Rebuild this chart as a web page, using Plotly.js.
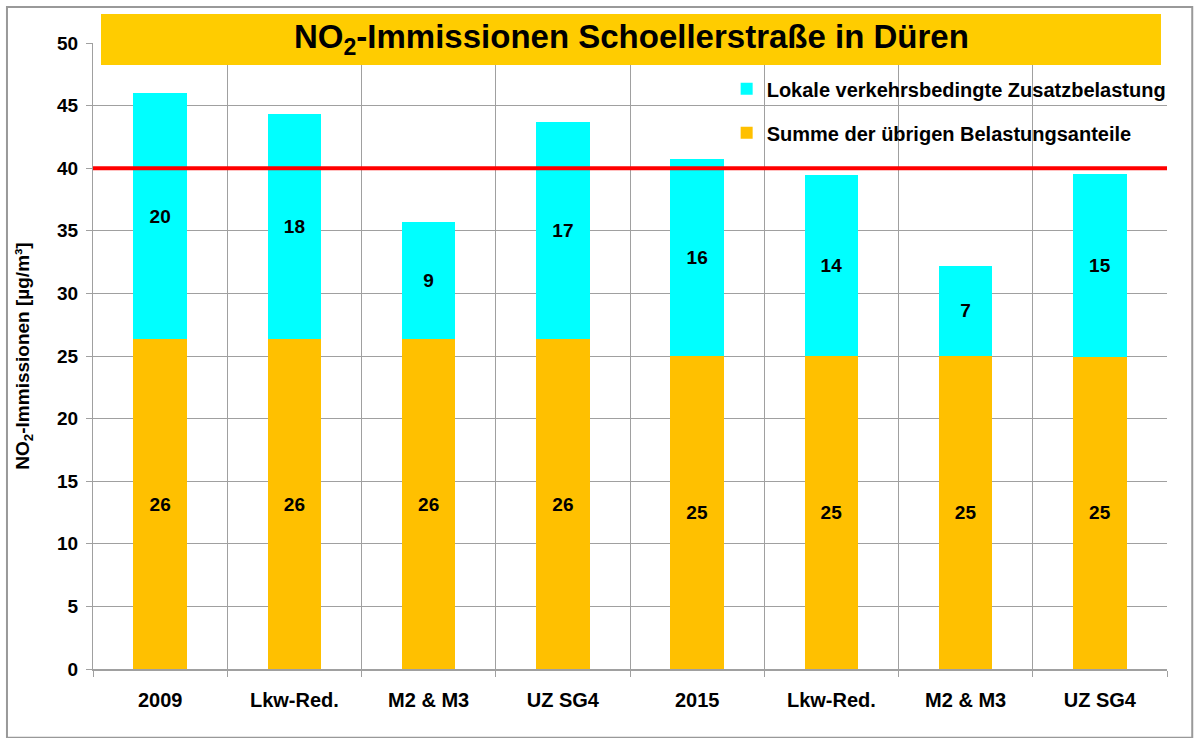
<!DOCTYPE html>
<html>
<head>
<meta charset="utf-8">
<script src="https://cdn.plot.ly/plotly-3.0.1.min.js"></script>
<style>html,body{margin:0;padding:0;background:#fff;}#chart{width:1194px;height:738px;}</style>
</head>
<body>
<div id="chart"></div>
<script>
const categories = ["2009", "Lkw-Red.", "M2 & M3", "UZ SG4", "2015", "Lkw-Red.", "M2 & M3", "UZ SG4"];
const baseLoad = [26.35, 26.35, 26.35, 26.35, 25.04, 25.04, 25.04, 24.94];
const trafficLoad = [19.65, 17.98, 9.36, 17.35, 15.71, 14.43, 7.16, 14.61];
const limitValue = 40;
const seriesNames = ["Summe der übrigen Belastungsanteile", "Lokale verkehrsbedingte Zusatzbelastung"];
const chartTitle = "NO<sub>2</sub>-Immissionen Schoellerstraße in Düren";
const yTitle = "NO<sub>2</sub>-Immissionen [µg/m³]";

const xPos = categories.map((c, i) => i);
const bounds = [];
for (let i = 0; i <= categories.length; i++) bounds.push(i - 0.5);

const FONT = "Liberation Sans, Arial, sans-serif";
const labelFont = {family: FONT, size: 19, color: "#000"};

const traces = [
  {
    type: "bar", x: xPos, y: baseLoad, name: "<b>" + seriesNames[0] + "</b>",
    marker: {color: "#FFC000", line: {width: 0}},
    width: 0.4,
    texttemplate: "<b>%{y:.0f}</b>", textposition: "inside", insidetextanchor: "middle",
    textfont: labelFont, textangle: 0,
    legendrank: 2, legendgroup: "g2", hoverinfo: "y"
  },
  {
    type: "bar", x: xPos, y: trafficLoad, name: "<b>" + seriesNames[1] + "</b>",
    marker: {color: "#00FFFF", line: {width: 0}},
    width: 0.4,
    texttemplate: "<b>%{y:.0f}</b>", textposition: "inside", insidetextanchor: "middle",
    textfont: labelFont, textangle: 0,
    legendrank: 1, legendgroup: "g1", hoverinfo: "y"
  },
  {
    type: "scatter", mode: "lines",
    x: [-0.545, 7.5], y: [limitValue, limitValue],
    line: {color: "#FF0000", width: 4},
    showlegend: false, hoverinfo: "skip", cliponaxis: false
  }
];

const layout = {
  width: 1194, height: 738,
  margin: {l: 93, r: 27, t: 43, b: 69},
  paper_bgcolor: "#fff", plot_bgcolor: "#fff",
  barmode: "stack",
  font: {family: FONT, size: 15, color: "#000"},
  showlegend: true,
  legend: {
    x: 0.59, y: 0.958, xanchor: "left", yanchor: "top",
    traceorder: "grouped", tracegroupgap: 15,
    font: {family: FONT, size: 20, color: "#000"},
    bgcolor: "rgba(0,0,0,0)", itemwidth: 30
  },
  xaxis: {
    range: [-0.5, 7.5],
    tickmode: "array", tickvals: xPos, ticktext: categories.map(c => "<b>" + c + "</b>"),
    ticks: "", showgrid: false, zeroline: false,
    tickfont: {family: FONT, size: 20, color: "#000"},
    ticklabelstandoff: 12,
    showline: true, linecolor: "#a0a0a0", linewidth: 2,
    minor: {tickmode: "array", tickvals: bounds, ticks: "outside", ticklen: 6, tickcolor: "#a0a0a0", tickwidth: 1,
            showgrid: true, gridcolor: "#a0a0a0", gridwidth: 1},
    fixedrange: true
  },
  yaxis: {
    range: [0, 50], tick0: 0, dtick: 5,
    ticks: "outside", ticklen: 6, tickcolor: "#a0a0a0",
    showgrid: true, gridcolor: "#a0a0a0", gridwidth: 1,
    zeroline: false,
    showline: true, linecolor: "#a0a0a0", linewidth: 1,
    tickfont: {family: FONT, size: 19, color: "#000", weight: "bold"},
    ticklabelstandoff: 4,
    title: {text: "<b>" + yTitle + "</b>", font: {family: FONT, size: 19, color: "#000"}, standoff: 22},
    fixedrange: true
  },
  shapes: [
    {type: "rect", xref: "paper", yref: "paper", x0: -0.0801, x1: 1.0235, y0: -0.11, y1: 1.0575,
     line: {color: "#999", width: 2}, fillcolor: "rgba(0,0,0,0)", layer: "below"},
    {type: "rect", xref: "paper", yref: "paper", x0: 0.00745, x1: 0.9944, y0: 0.9649, y1: 1.0463,
     line: {width: 0}, fillcolor: "#FFCC00", layer: "above"}
  ],
  annotations: [
    {xref: "paper", yref: "paper", x: 0.501, y: 1.0056, xanchor: "center", yanchor: "middle",
     text: "<b>" + chartTitle + "</b>", showarrow: false,
     font: {family: FONT, size: 33, color: "#000"}}
  ]
};

Plotly.newPlot("chart", traces, layout, {displayModeBar: false, staticPlot: true});
</script>
</body>
</html>
